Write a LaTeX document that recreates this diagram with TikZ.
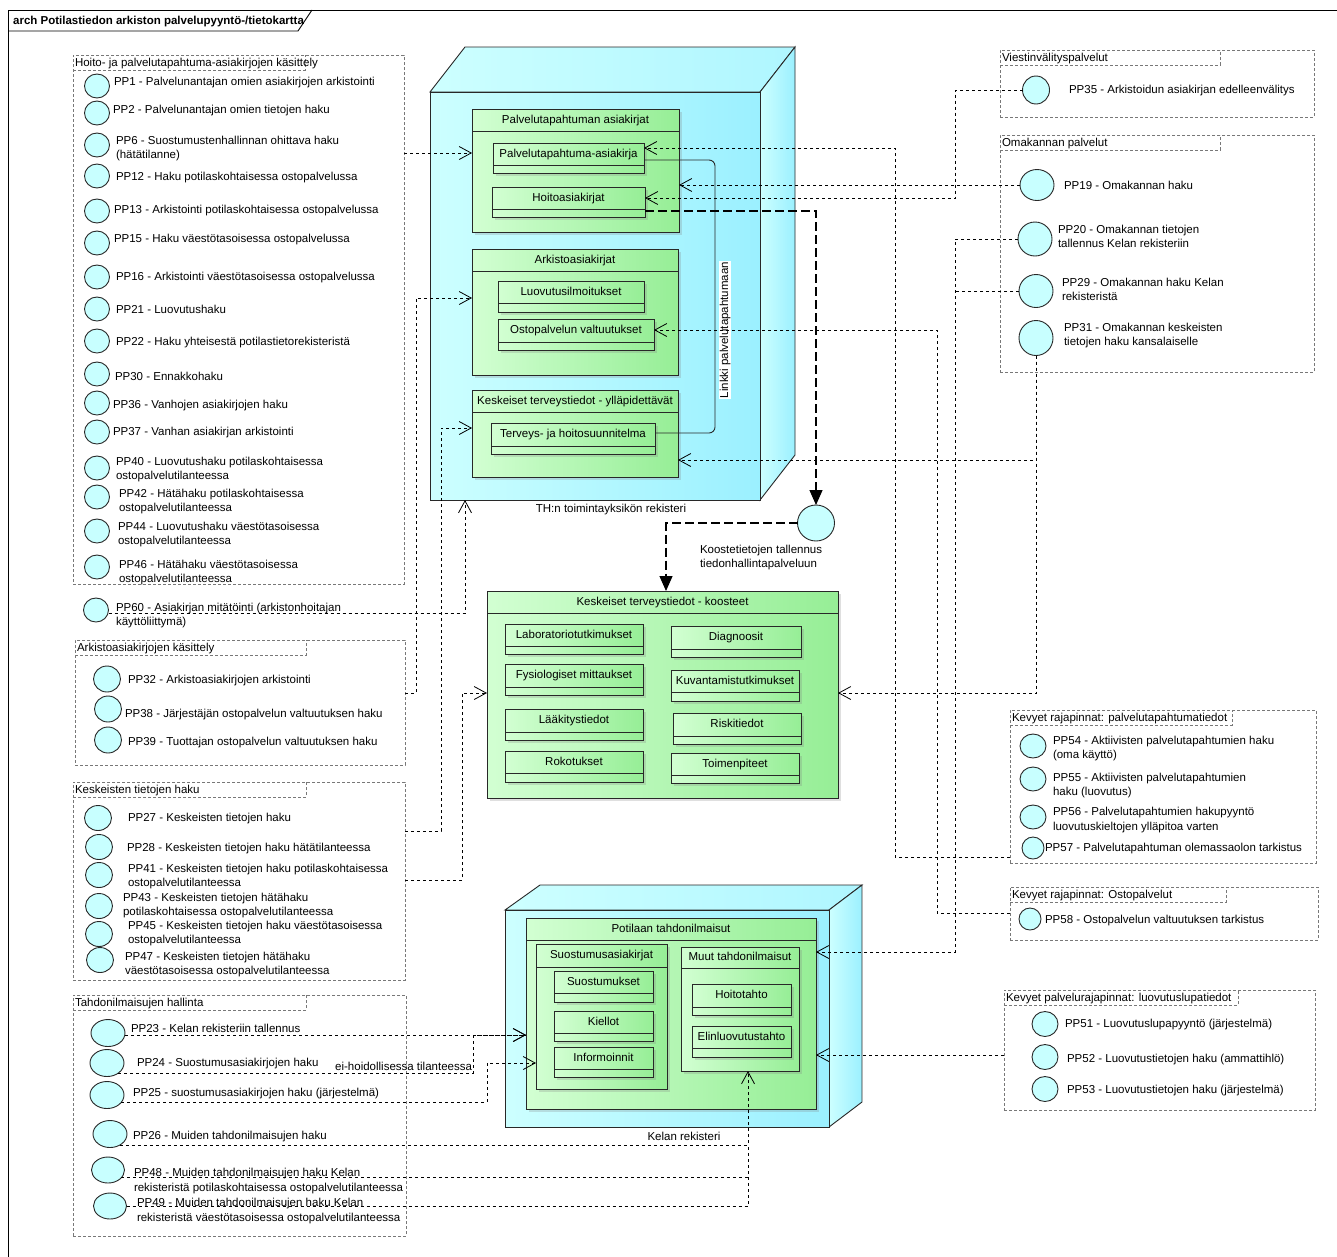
\documentclass[tikz,border=0pt]{standalone}
\usepackage{fontspec}
\setmainfont{Liberation Sans}
\usetikzlibrary{arrows.meta,shapes.geometric,shadows,calc}
\definecolor{ucfill}{RGB}{200,255,255}
\definecolor{gL}{RGB}{210,255,210}
\definecolor{gR}{RGB}{150,238,150}
\definecolor{cL}{RGB}{205,255,255}
\definecolor{cR}{RGB}{155,240,255}
\definecolor{grpc}{RGB}{120,120,120}
\definecolor{edgec}{RGB}{40,40,40}
\newcommand\fs{\fontsize{11.5}{14}\selectfont}
\tikzset{
 tx/.style={anchor=base west, inner sep=0pt, outer sep=0pt, font=\fs, text=black},
 ctr/.style={inner sep=0pt, outer sep=0pt, font=\fs, text height=8.3pt, text depth=2.2pt},
 grpbox/.style={draw=grpc, line width=0.6pt, dash pattern=on 3pt off 2pt, inner sep=0pt, outer sep=0pt},
 grpline/.style={draw=grpc, line width=0.6pt, dash pattern=on 3pt off 2pt},
 pkg/.style={draw=edgec, line width=0.9pt, left color=gL, right color=gR, inner sep=0pt, outer sep=0pt,
   drop shadow={shadow xshift=2.5pt, shadow yshift=-2.5pt, opacity=0.25}},
 pkline/.style={draw=edgec, line width=0.9pt},
 uc/.style={ellipse, draw=edgec, line width=0.9pt, fill=ucfill, inner sep=0pt, outer sep=0pt},
 dep/.style={draw=black, line width=0.8pt, dash pattern=on 3pt off 3pt,
   -{Straight Barb[length=12pt, width=13pt, line width=0.8pt]}},
 depl/.style={draw=black, line width=0.8pt, dash pattern=on 3pt off 3pt},
 flow/.style={draw=black, line width=1.2pt, dash pattern=on 9pt off 4pt,
   -{Triangle[length=15pt, width=13pt]}},
 cube/.style={draw=edgec, line width=0.9pt},
}
\newcommand\pkbox[7]{% name x1 y1 x2 y2 sepy title
  \node[pkg, minimum width={#4-#2}, minimum height={#5-#3}] (#1) at ({(#2+#4)/2},{(#3+#5)/2}) {};
  \draw[pkline] (#2,#6) -- (#4,#6);
  \node[ctr] (#1-t) at ({(#2+#4)/2},{(#3+#6)/2}) {#7};
}
\newcommand\grpb[7]{% name x1 y1 x2 y2 tabx title
  \node[grpbox, minimum width={#4-#2}, minimum height={#5-#3}] (#1) at ({(#2+#4)/2},{(#3+#5)/2}) {};
  \draw[grpline] (#2,{#3+15}) -| (#6,#3);
  \node[tx] (#1-t) at ({#2+2},{#3+11.5}) {#7};
}
\newcommand\ucase[5]{\node[uc, minimum width=#4, minimum height=#5] (#1) at (#2,#3) {};}
\newcommand\ptxt[4]{\node[tx] (#1) at (#2,#3) {#4};}
\begin{document}
\begin{tikzpicture}[x=1pt,y=-1pt]
\useasboundingbox (0,0) rectangle (1337,1256);
\clip (0,0) rectangle (1337,1256);
\fill[white] (0,0) rectangle (1337,1256);
% frame
\draw[line width=0.9pt] (8,10) rectangle (1345,1265);
\draw[line width=0.9pt] (8,31) -- (298,31) -- (312,10);
\node[anchor=base west, inner sep=0pt, font=\fs\bfseries] (title) at (13,24) {arch Potilastiedon arkiston palvelupyyntö-/tietokartta};

% ===== TH node =====
\path[cube, left color=cL, right color=cR!60!cL] (430,92) -- (465,47) -- (795,47) -- (760,92) -- cycle;
\path[cube, left color=cL, right color=cR] (760,92) -- (795,47) -- (795,455) -- (760,500) -- cycle;
\node[cube, left color=cL, right color=cR, minimum width=330, minimum height=408, inner sep=0pt, outer sep=0pt] (th) at (595,296) {};
\node[ctr] (thl) at (611,509) {TH:n toimintayksikön rekisteri};

\pkbox{pk1}{472}{109}{679}{232}{131}{Palvelutapahtuman asiakirjat}
\pkbox{c1}{493}{143}{644}{173}{165}{Palvelutapahtuma-asiakirja}
\pkbox{c2}{492}{187}{645}{217}{209}{Hoitoasiakirjat}
\pkbox{pk2}{472}{249}{678}{375}{271}{Arkistoasiakirjat}
\pkbox{c3}{498}{281}{644}{312}{303}{Luovutusilmoitukset}
\pkbox{c4}{498}{319}{654}{350}{342}{Ostopalvelun valtuutukset}
\pkbox{pk3}{472}{390}{678}{477}{412}{Keskeiset terveystiedot - ylläpidettävät}
\pkbox{c5}{491}{423}{655}{454}{446}{Terveys- ja hoitosuunnitelma}

\coordinate (L1) at (715,160); \coordinate (L2) at (715,433);
\draw[pkline, rounded corners=6pt] (c1.east |- L1) -- (L1) -- (L2) -- (c5.east |- L2);
\node[ctr, rotate=90, fill=white, inner sep=1.2pt] (lnk) at (725,330) {Linkki palvelutapahtumaan};

% ===== koosteet =====
\pkbox{koost}{487}{591}{838}{798}{613}{Keskeiset terveystiedot - koosteet}
\pkbox{k1}{505}{624}{643}{654}{646}{Laboratoriotutkimukset}
\pkbox{k2}{671}{626}{801}{657}{649}{Diagnoosit}
\pkbox{k3}{505}{664}{643}{695}{687}{Fysiologiset mittaukset}
\pkbox{k4}{671}{670}{799}{701}{692}{Kuvantamistutkimukset}
\pkbox{k5}{505}{709}{643}{740}{732}{Lääkitystiedot}
\pkbox{k6}{673}{713}{801}{744}{736}{Riskitiedot}
\pkbox{k7}{505}{751}{643}{782}{773}{Rokotukset}
\pkbox{k8}{671}{753}{799}{783}{775}{Toimenpiteet}

\ucase{koo}{816}{523}{37}{36}
\ptxt{koot1}{700}{553}{Koostetietojen tallennus}
\ptxt{koot2}{700}{567}{tiedonhallintapalveluun}

% ===== Kelan node =====
\path[cube, left color=cL, right color=cR!60!cL] (505,910) -- (540,885) -- (862,885) -- (829,910) -- cycle;
\path[cube, left color=cL, right color=cR] (829,910) -- (862,885) -- (862,1102) -- (829,1127) -- cycle;
\node[cube, left color=cL, right color=cR, minimum width=324, minimum height=217, inner sep=0pt, outer sep=0pt] (kel) at (667,1018.5) {};
\node[ctr] (kell) at (684,1137) {Kelan rekisteri};

\pkbox{pt}{526}{918}{816}{1109}{940}{Potilaan tahdonilmaisut}
\pkbox{sa}{536}{944}{667}{1089}{967}{Suostumusasiakirjat}
\pkbox{s1}{554}{971}{653}{1002}{993}{Suostumukset}
\pkbox{s2}{554}{1011}{653}{1041}{1033}{Kiellot}
\pkbox{s3}{554}{1047}{653}{1077}{1069}{Informoinnit}
\pkbox{mt}{681}{947}{799}{1071}{968}{Muut tahdonilmaisut}
\pkbox{m1}{692}{984}{791}{1015}{1007}{Hoitotahto}
\pkbox{m2}{692}{1026}{791}{1057}{1048}{Elinluovutustahto}

% ===== groups =====
\grpb{gA}{73}{55}{404}{584}{305}{Hoito- ja palvelutapahtuma-asiakirjojen käsittely}
\grpb{gB}{75}{640}{405}{765}{306}{Arkistoasiakirjojen käsittely}
\grpb{gC}{73}{782}{405}{980}{306}{Keskeisten tietojen haku}
\grpb{gD}{73}{995}{406}{1236}{306}{Tahdonilmaisujen hallinta}
\grpb{gE}{1000}{50}{1314}{117}{1220}{Viestinvälityspalvelut}
\grpb{gF}{1000}{135}{1314}{372}{1220}{Omakannan palvelut}
\grpb{gG}{1010}{710}{1316}{863}{1232}{Kevyet rajapinnat: palvelutapahtumatiedot}
\grpb{gH}{1010}{887}{1318}{940}{1226}{Kevyet rajapinnat: Ostopalvelut}
\grpb{gI}{1004}{990}{1315}{1110}{1238}{Kevyet palvelurajapinnat: luovutuslupatiedot}

% group A
\ucase{pp1}{97}{86}{25}{24}   \ptxt{pp1t}{114}{85}{PP1 - Palvelunantajan omien asiakirjojen arkistointi}
\ucase{pp2}{97}{113}{25}{24}  \ptxt{pp2t}{113}{113}{PP2 - Palvelunantajan omien tietojen haku}
\ucase{pp6}{97}{145}{25}{24}  \ptxt{pp6t}{116}{144}{PP6 - Suostumustenhallinnan ohittava haku}
                              \ptxt{pp6u}{116}{158}{(hätätilanne)}
\ucase{pp12}{97}{176}{25}{24} \ptxt{pp12t}{116}{180}{PP12 - Haku potilaskohtaisessa ostopalvelussa}
\ucase{pp13}{97}{211}{25}{24} \ptxt{pp13t}{114}{213}{PP13 - Arkistointi potilaskohtaisessa ostopalvelussa}
\ucase{pp15}{97}{243}{25}{24} \ptxt{pp15t}{114}{242}{PP15 - Haku väestötasoisessa ostopalvelussa}
\ucase{pp16}{97}{277}{25}{24} \ptxt{pp16t}{116}{280}{PP16 - Arkistointi väestötasoisessa ostopalvelussa}
\ucase{pp21}{97}{309}{25}{24} \ptxt{pp21t}{116}{313}{PP21 - Luovutushaku}
\ucase{pp22}{97}{341}{25}{24} \ptxt{pp22t}{116}{345}{PP22 - Haku yhteisestä potilastietorekisteristä}
\ucase{pp30}{97}{374}{25}{24} \ptxt{pp30t}{115}{380}{PP30 - Ennakkohaku}
\ucase{pp36}{97}{403}{25}{24} \ptxt{pp36t}{113}{408}{PP36 - Vanhojen asiakirjojen haku}
\ucase{pp37}{97}{432}{25}{24} \ptxt{pp37t}{113}{435}{PP37 - Vanhan asiakirjan arkistointi}
\ucase{pp40}{97}{468}{25}{24} \ptxt{pp40t}{116}{465}{PP40 - Luovutushaku potilaskohtaisessa}
                              \ptxt{pp40u}{116}{479}{ostopalvelutilanteessa}
\ucase{pp42}{97}{497}{25}{24} \ptxt{pp42t}{119}{497}{PP42 - Hätähaku potilaskohtaisessa}
                              \ptxt{pp42u}{119}{511}{ostopalvelutilanteessa}
\ucase{pp44}{97}{531}{25}{24} \ptxt{pp44t}{118}{530}{PP44 - Luovutushaku väestötasoisessa}
                              \ptxt{pp44u}{118}{544}{ostopalvelutilanteessa}
\ucase{pp46}{97}{567}{25}{24} \ptxt{pp46t}{119}{568}{PP46 - Hätähaku väestötasoisessa}
                              \ptxt{pp46u}{119}{582}{ostopalvelutilanteessa}
\ucase{pp60}{96}{610}{25}{24} \ptxt{pp60t}{116}{611}{PP60 - Asiakirjan mitätöinti (arkistonhoitajan}
                              \ptxt{pp60u}{116}{625}{käyttöliittymä)}
% group B
\ucase{pp32}{107}{679}{27}{26} \ptxt{pp32t}{128}{683}{PP32 - Arkistoasiakirjojen arkistointi}
\ucase{pp38}{108}{709}{27}{26} \ptxt{pp38t}{125}{717}{PP38 - Järjestäjän ostopalvelun valtuutuksen haku}
\ucase{pp39}{108}{740}{27}{26} \ptxt{pp39t}{128}{745}{PP39 - Tuottajan ostopalvelun valtuutuksen haku}
% group C
\ucase{pp27}{98}{818}{27}{25} \ptxt{pp27t}{128}{821}{PP27 - Keskeisten tietojen haku}
\ucase{pp28}{99}{847}{27}{25} \ptxt{pp28t}{127}{851}{PP28 - Keskeisten tietojen haku hätätilanteessa}
\ucase{pp41}{99}{875}{27}{25} \ptxt{pp41t}{128}{872}{PP41 - Keskeisten tietojen haku potilaskohtaisessa}
                              \ptxt{pp41u}{128}{886}{ostopalvelutilanteessa}
\ucase{pp43}{99}{906}{27}{25} \ptxt{pp43t}{123}{901}{PP43 - Keskeisten tietojen hätähaku}
                              \ptxt{pp43u}{123}{915}{potilaskohtaisessa ostopalvelutilanteessa}
\ucase{pp45}{99}{934}{27}{25} \ptxt{pp45t}{128}{929}{PP45 - Keskeisten tietojen haku väestötasoisessa}
                              \ptxt{pp45u}{128}{943}{ostopalvelutilanteessa}
\ucase{pp47}{100}{960}{27}{25} \ptxt{pp47t}{125}{960}{PP47 - Keskeisten tietojen hätähaku}
                               \ptxt{pp47u}{125}{974}{väestötasoisessa ostopalvelutilanteessa}
% group D
\ucase{pp23}{108}{1033}{34}{27} \ptxt{pp23t}{131}{1032}{PP23 - Kelan rekisteriin tallennus}
\ucase{pp24}{107}{1063}{34}{27} \ptxt{pp24t}{137}{1066}{PP24 - Suostumusasiakirjojen haku}
\ucase{pp25}{107}{1095}{34}{27} \ptxt{pp25t}{133}{1096}{PP25 - suostumusasiakirjojen haku (järjestelmä)}
\ucase{pp26}{110}{1134}{34}{27} \ptxt{pp26t}{133}{1139}{PP26 - Muiden tahdonilmaisujen haku}
\ucase{pp48}{108}{1170}{33}{26} \ptxt{pp48t}{134}{1176}{PP48 - Muiden tahdonilmaisujen haku Kelan}
                                \ptxt{pp48u}{134}{1191}{rekisteristä potilaskohtaisessa ostopalvelutilanteessa}
\ucase{pp49}{110}{1206}{33}{26} \ptxt{pp49t}{137}{1206}{PP49 - Muiden tahdonilmaisujen haku Kelan}
                                \ptxt{pp49u}{137}{1221}{rekisteristä väestötasoisessa ostopalvelutilanteessa}
% right groups
\ucase{pp35}{1036}{90}{27}{28}  \ptxt{pp35t}{1069}{93}{PP35 - Arkistoidun asiakirjan edelleenvälitys}
\ucase{pp19}{1037}{185}{34}{31} \ptxt{pp19t}{1064}{189}{PP19 - Omakannan haku}
\ucase{pp20}{1035}{239}{34}{34} \ptxt{pp20t}{1058}{233}{PP20 - Omakannan tietojen}
                                \ptxt{pp20u}{1058}{247}{tallennus Kelan rekisteriin}
\ucase{pp29}{1036}{291}{34}{33} \ptxt{pp29t}{1062}{286}{PP29 - Omakannan haku Kelan}
                                \ptxt{pp29u}{1062}{300}{rekisteristä}
\ucase{pp31}{1036}{338}{34}{35} \ptxt{pp31t}{1064}{331}{PP31 - Omakannan keskeisten}
                                \ptxt{pp31u}{1064}{345}{tietojen haku kansalaiselle}
\ucase{pp54}{1033}{746}{26}{24} \ptxt{pp54t}{1053}{744}{PP54 - Aktiivisten palvelutapahtumien haku}
                                \ptxt{pp54u}{1053}{758}{(oma käyttö)}
\ucase{pp55}{1033}{779}{26}{24} \ptxt{pp55t}{1053}{781}{PP55 - Aktiivisten palvelutapahtumien}
                                \ptxt{pp55u}{1053}{795}{haku (luovutus)}
\ucase{pp56}{1033}{817}{26}{24} \ptxt{pp56t}{1053}{815}{PP56 - Palvelutapahtumien hakupyyntö}
                                \ptxt{pp56u}{1053}{830}{luovutuskieltojen ylläpitoa varten}
\ucase{pp57}{1033}{848}{22}{22} \ptxt{pp57t}{1045}{851}{PP57 - Palvelutapahtuman olemassaolon tarkistus}
\ucase{pp58}{1030}{919}{22}{22} \ptxt{pp58t}{1045}{923}{PP58 - Ostopalvelun valtuutuksen tarkistus}
\ucase{pp51}{1045}{1024}{26}{25} \ptxt{pp51t}{1065}{1027}{PP51 - Luovutuslupapyyntö (järjestelmä)}
\ucase{pp52}{1045}{1057}{26}{25} \ptxt{pp52t}{1067}{1062}{PP52 - Luovutustietojen haku (ammattihlö)}
\ucase{pp53}{1045}{1089}{26}{25} \ptxt{pp53t}{1067}{1093}{PP53 - Luovutustietojen haku (järjestelmä)}

% ===== connectors =====
\coordinate (a1) at (404,153);
\draw[dep] (gA.east |- a1) -- (pk1.west |- a1);
\coordinate (b1) at (416,693); \coordinate (b2) at (416,298);
\draw[dep] (gB.east |- b1) -- (b1) -- (b2) -- (pk2.west |- b2);
\coordinate (d1) at (441,831); \coordinate (d2) at (441,428);
\draw[dep] (gC.east |- d1) -- (d1) -- (d2) -- (pk3.west |- d2);
\coordinate (e1) at (462,880); \coordinate (e2) at (462,693);
\draw[dep] (gC.east |- e1) -- (e1) -- (e2) -- (koost.west |- e2);
\coordinate (f1) at (465,613);
\draw[dep] ([yshift=-3pt]pp60.east) -- (f1) -- (f1 |- th.south);

\coordinate (g1) at (895,857); \coordinate (g2) at (895,148);
\draw[dep] (gG.west |- g1) -- (g1) -- (g2) -- (c1.east |- g2);
\draw[dep] (pp19.west) -- (pp19.west -| pk1.east);
\coordinate (h2) at (955,198);
\draw[dep] (pp35.west) -- (pp35.west -| h2) -- (h2) -- (c2.east |- h2);
\coordinate (i1) at (937,913); \coordinate (i2) at (937,330);
\draw[dep] (gH.west |- i1) -- (i1) -- (i2) -- (c4.east |- i2);
\coordinate (j1) at (1035,460); \coordinate (j2) at (1035,693);
\draw[dep] (pp31.south) -- (pp31.south |- j1) -- (pk3.east |- j1);
\draw[dep] (pp31.south) -- (pp31.south |- j2) -- (koost.east |- j2);

\coordinate (k1) at (816,211);
\draw[flow] (c2.east |- k1) -- (k1) -- (koo.north);
\coordinate (k2) at (666,523);
\draw[flow] (koo.west) -- (k2) -- (k2 |- koost.north);

\coordinate (m1) at (955,952);
\draw[dep] (pp20.west) -- (pp20.west -| m1) -- (m1) -- (pt.east |- m1);
\draw[depl] (pp29.west) -- (pp29.west -| m1);
\coordinate (n1) at (1004,1055);
\draw[dep] (gI.west |- n1) -- (pt.east |- n1);

\coordinate (q1) at (473,1035);
\draw[dep] (pp23.east |- q1) -- (pt.west |- q1);
\draw[dep] (pp24.-41) -- (pp24.-41 -| q1) -- (q1) -- (pt.west |- q1);
\node[tx, anchor=base east] (eih) at (472,1070) {ei-hoidollisessa tilanteessa};
\coordinate (r1) at (487,1063);
\draw[dep] (pp25.-26) -- (pp25.-26 -| r1) -- (r1) -- (sa.west |- r1);
\coordinate (s0) at (748,1145);
\draw[dep] (pp26.-48) -- (pp26.-48 -| s0) -- (s0) -- (s0 |- mt.south);
\draw[depl] (pp48.-30) -- (pp48.-30 -| s0);
\draw[depl] (pp49.east) -- (pp49.east -| s0) -- (s0);
\end{tikzpicture}
\end{document}
